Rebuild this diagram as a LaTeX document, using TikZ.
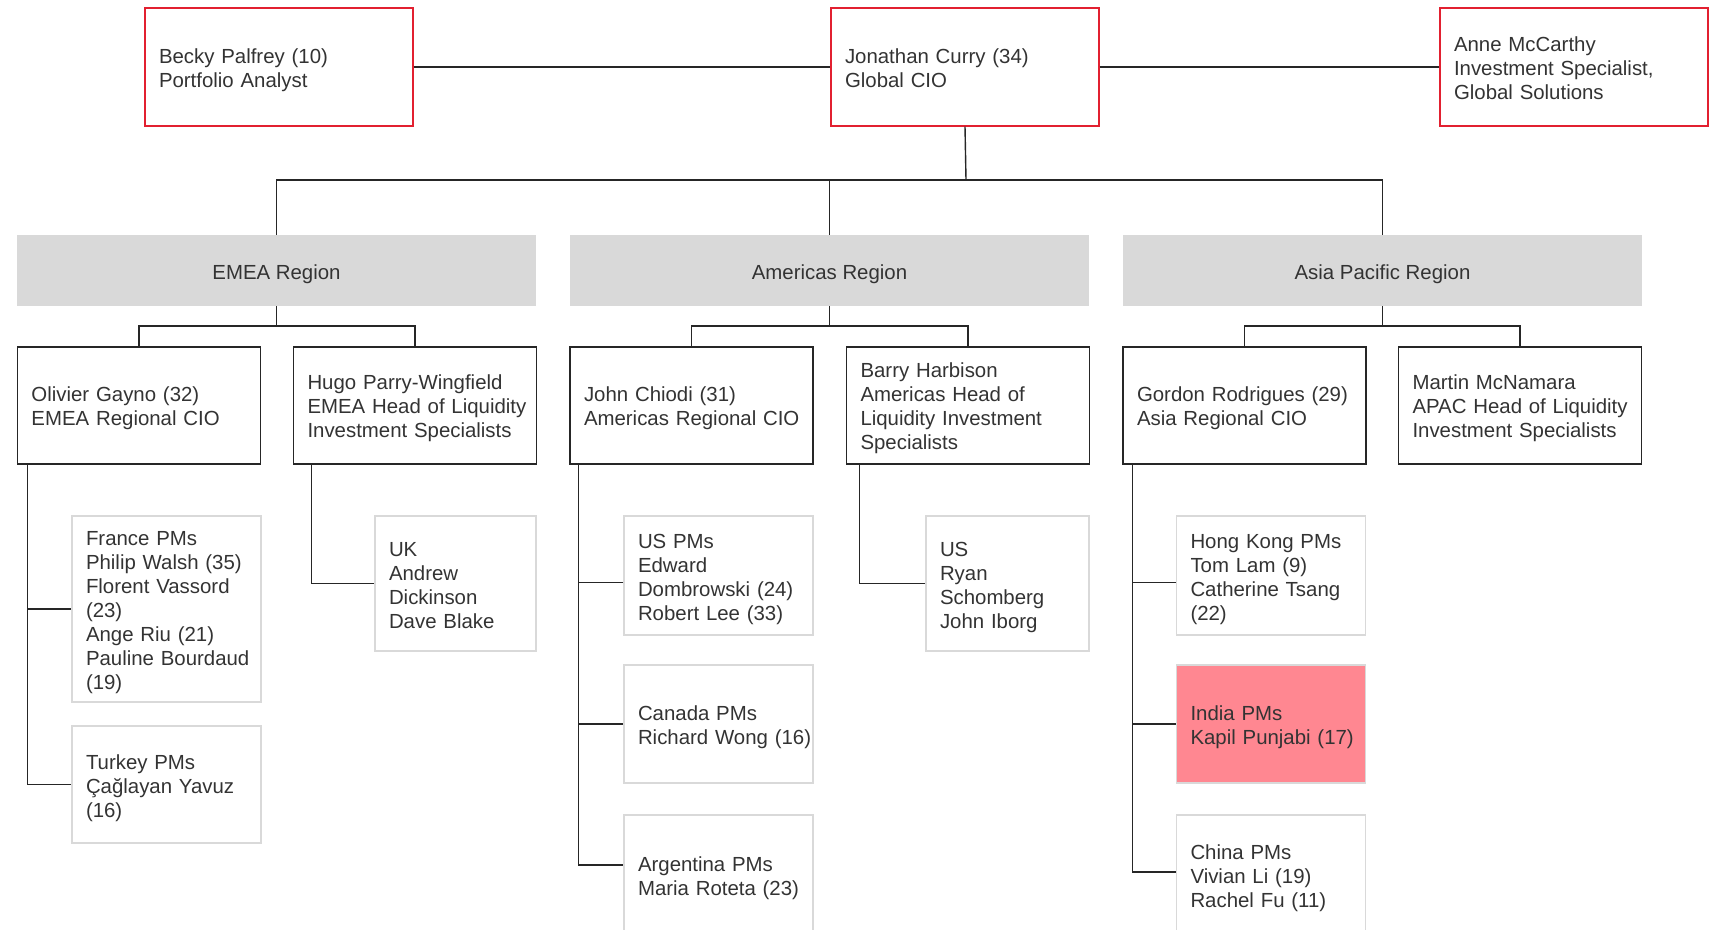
\documentclass[tikz,border=0pt]{standalone}
\usepackage{fontspec}
\setmainfont{Liberation Sans}
\usepackage{tikz}

\definecolor{cioRed}{RGB}{226,32,48}
\definecolor{lineDark}{RGB}{38,38,38}
\definecolor{regionGray}{RGB}{217,217,217}
\definecolor{pmGray}{RGB}{217,217,217}
\definecolor{indiaPink}{RGB}{255,135,145}

\begin{document}
\begin{tikzpicture}[x=0.5pt, y=-0.5pt,
	every node/.style={font=\fontsize{10.2pt}{12pt}\selectfont, text=black!80},
	card/.style={inner xsep=0pt, align=left, execute at begin node={\leftskip=7pt\rule{0pt}{10.7pt}}, execute at end node={\rule[-2.2pt]{0pt}{2.2pt}}},
	lead/.style={card, draw=cioRed, line width=0.7pt, text width=134pt, minimum height=59pt},
	head/.style={card, draw=lineDark, line width=0.75pt, text width=121.5pt, minimum height=58.5pt},
	pm/.style={card, draw=pmGray, line width=0.6pt, text width=94.5pt},
	region/.style={fill=regionGray, minimum width=259.5pt, minimum height=35.5pt, execute at begin node={\rule{0pt}{10.7pt}}},
	link/.style={draw=lineDark, line width=0.7pt}]
			\useasboundingbox (0,0) rectangle (1713,930);
			
			% draw top row
			\node[lead] (becky) at (279,67) {Becky Palfrey (10)\\Portfolio Analyst};
			\node[lead] (jonathan) at (965,67) {Jonathan Curry (34)\\Global CIO};
			\node[lead] (anne) at (1574,67) {Anne McCarthy\\Investment Specialist,\\Global Solutions};
			
			% draw regions
			\node[region] (emea) at (276.5,270.5) {EMEA Region};
			\node[region] (americas) at (829.5,270.5) {Americas Region};
			\node[region] (asia) at (1382.5,270.5) {Asia Pacific Region};
			
			% draw regional heads
			\node[head] (olivier) at (139,405.5) {Olivier Gayno (32)\\EMEA Regional CIO};
			\node[head] (hugo) at (415,405.5) {Hugo Parry-Wingfield\\EMEA Head of Liquidity\\Investment Specialists};
			\node[head] (john) at (691.5,405.5) {John Chiodi (31)\\Americas Regional CIO};
			\node[head] (barry) at (968,405.5) {Barry Harbison\\Americas Head of\\Liquidity Investment\\Specialists};
			\node[head] (gordon) at (1244.5,405.5) {Gordon Rodrigues (29)\\Asia Regional CIO};
			\node[head] (martin) at (1520,405.5) {Martin McNamara\\APAC Head of Liquidity\\Investment Specialists};
			
			% draw PM teams
			\node[pm, minimum height=93pt] (france) at (166.5,609) {France PMs\\Philip Walsh (35)\\Florent Vassord\\(23)\\Ange Riu (21)\\Pauline Bourdaud\\(19)};
			\node[pm, minimum height=58.5pt] (turkey) at (166.5,784.5) {Turkey PMs\\Çağlayan Yavuz\\(16)};
			\node[pm, text width=80.5pt, minimum height=67.5pt] (uk) at (455.5,583.5) {UK\\Andrew\\Dickinson\\Dave Blake};
			\node[pm, minimum height=59.5pt] (uspms) at (718.5,575.5) {US PMs\\Edward\\Dombrowski (24)\\Robert Lee (33)};
			\node[pm, minimum height=59pt] (canada) at (718.5,724) {Canada PMs\\Richard Wong (16)};
			\node[pm, minimum height=60pt] (argentina) at (718.5,875) {Argentina PMs\\Maria Roteta (23)};
			\node[pm, text width=81.5pt, minimum height=67.5pt] (usliq) at (1007.5,583.5) {US\\Ryan\\Schomberg\\John Iborg};
			\node[pm, minimum height=59.5pt] (hongkong) at (1271,575.5) {Hong Kong PMs\\Tom Lam (9)\\Catherine Tsang\\(22)};
			\node[pm, fill=indiaPink, minimum height=59pt] (india) at (1271,724) {India PMs\\Kapil Punjabi (17)};
			\node[pm, minimum height=60pt] (china) at (1271,875) {China PMs\\Vivian Li (19)\\Rachel Fu (11)};
			
			% draw top connectors
			\coordinate (topbar) at (966,180);
			\draw[link] (becky) -- (jonathan);
			\draw[link] (jonathan) -- (anne);
			\draw[link] (jonathan.south) -- (topbar);
			\draw[link] (emea.north) |- (topbar) -| (asia.north);
			\draw[link] (americas.north) -- (americas.north |- topbar);
			
			% draw region connectors
			\foreach \reg/\cio/\liq in {emea/olivier/hugo, americas/john/barry, asia/gordon/martin}
			{
			\draw[link] (\reg.south) -- (\reg.south |- 0,326);
			\draw[link] (\cio.north) |- (\liq.north |- 0,326) -- (\liq.north);
			}
			
			% draw team connectors
			\coordinate (olivier-t) at ([xshift=5.5pt]olivier.south west);
			\coordinate (hugo-t) at ([xshift=9.25pt]hugo.south west);
			\coordinate (john-t) at ([xshift=4.5pt]john.south west);
			\coordinate (barry-t) at ([xshift=7pt]barry.south west);
			\coordinate (gordon-t) at ([xshift=5pt]gordon.south west);
			\draw[link] (olivier-t) |- (turkey.west);
			\draw[link] (olivier-t |- france.west) -- (france.west);
			\draw[link] (hugo-t) |- (uk.west);
			\draw[link] (john-t) |- ([yshift=5pt]argentina.west);
			\draw[link] (john-t |- canada.west) -- (canada.west);
			\draw[link] ([yshift=-3.6pt]uspms.west) -- ([yshift=-3.6pt]uspms.west -| john-t);
			\draw[link] (barry-t) |- (usliq.west);
			\draw[link] (gordon-t) |- ([yshift=1.5pt]china.west);
			\draw[link] (gordon-t |- india.west) -- (india.west);
			\draw[link] ([yshift=-3.6pt]hongkong.west) -- ([yshift=-3.6pt]hongkong.west -| gordon-t);
\end{tikzpicture}
\end{document}
